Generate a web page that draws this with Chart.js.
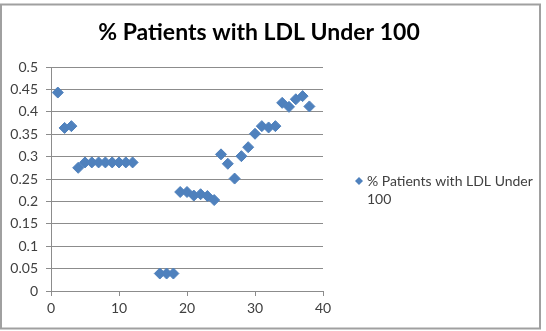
<!DOCTYPE html>
<html>
<head>
<meta charset="utf-8">
<script src="https://cdn.jsdelivr.net/npm/chart.js@4/dist/chart.umd.min.js"></script>
<style>
  html, body { margin: 0; padding: 0; background: #fff; }
  #wrap { position: relative; width: 546px; height: 331px; }
</style>
</head>
<body>
<div id="wrap"><canvas id="chart"></canvas></div>
<script>
const chartTitle = "% Patients with LDL Under 100";
const seriesName = "% Patients with LDL Under 100";
const xValues = [1, 2, 3, 4, 5, 6, 7, 8, 9, 10, 11, 12,
  16, 17, 18, 19, 20, 21, 22, 23, 24, 25, 26, 27, 28, 29, 30,
  31, 32, 33, 34, 35, 36, 37, 38];
const yValues = [0.443, 0.364, 0.368, 0.275, 0.287, 0.287, 0.287, 0.287, 0.287, 0.287, 0.287, 0.287,
  0.039, 0.039, 0.039, 0.221, 0.221, 0.213, 0.216, 0.212, 0.203, 0.305, 0.284, 0.251, 0.301, 0.321, 0.351,
  0.368, 0.365, 0.368, 0.42, 0.411, 0.428, 0.435, 0.412];
const yTickLabels = ["0", "0.05", "0.1", "0.15", "0.2", "0.25", "0.3", "0.35", "0.4", "0.45", "0.5"];
const xTickLabels = ["0", "10", "20", "30", "40"];

const blue = "#4F81BD";
const labelFont = "Lato, 'Open Sans', sans-serif";

// frame, title and legend drawn by hand (legend text wraps onto two lines)
const decor = {
  id: "decor",
  beforeDraw(chart) {
    const ctx = chart.ctx;
    ctx.save();
    ctx.fillStyle = "#fff";
    ctx.fillRect(0, 0, chart.width, chart.height);
    ctx.strokeStyle = "#a0a0a0";
    ctx.lineWidth = 2;
    ctx.strokeRect(1, 4.5, 539, 324);
    ctx.fillStyle = "#000";
    ctx.font = "bold 23px " + labelFont;
    ctx.textAlign = "center";
    ctx.textBaseline = "middle";
    ctx.fillText(chartTitle, 259, 33);
    ctx.restore();
  },
  afterDraw(chart) {
    const ctx = chart.ctx;
    ctx.save();
    ctx.fillStyle = blue;
    ctx.beginPath();
    ctx.moveTo(355, 181);
    ctx.lineTo(359, 177);
    ctx.lineTo(363, 181);
    ctx.lineTo(359, 185);
    ctx.closePath();
    ctx.fill();
    ctx.fillStyle = "#404040";
    ctx.font = "14px " + labelFont;
    ctx.textBaseline = "middle";
    ctx.fillText("% Patients with LDL Under", 367, 181);
    ctx.fillText("100", 367, 199);
    ctx.restore();
  }
};

new Chart(document.getElementById("chart"), {
  type: "scatter",
  data: {
    datasets: [{
      label: seriesName,
      data: xValues.map((x, i) => ({ x: x, y: yValues[i] })),
      backgroundColor: blue,
      borderColor: blue,
      borderWidth: 1,
      pointStyle: "rectRot",
      pointRadius: 5.5,
      pointHoverRadius: 5.5
    }]
  },
  options: {
    responsive: true,
    maintainAspectRatio: false,
    animation: false,
    layout: { padding: { left: 0, right: 223, top: 67, bottom: 0 } },
    scales: {
      x: {
        type: "linear",
        min: 0,
        max: 40,
        afterFit: s => { s.height = 40; },
        ticks: {
          stepSize: 10,
          padding: 4,
          color: "#404040",
          font: { family: labelFont, size: 14 },
          callback: (v, i) => xTickLabels[i]
        },
        grid: { color: "transparent", tickColor: "#8c8c8c", tickLength: 5 },
        border: { color: "#8c8c8c" }
      },
      y: {
        min: 0,
        max: 0.5,
        afterFit: s => { s.width = 51; },
        ticks: {
          stepSize: 0.05,
          padding: 8,
          color: "#404040",
          font: { family: labelFont, size: 14 },
          callback: (v, i) => yTickLabels[i]
        },
        grid: { color: "#8c8c8c", tickColor: "#8c8c8c", tickLength: 5 },
        border: { color: "#8c8c8c" }
      }
    },
    plugins: {
      legend: { display: false },
      tooltip: { enabled: false },
      title: { display: false }
    }
  },
  plugins: [decor]
});
</script>
</body>
</html>
